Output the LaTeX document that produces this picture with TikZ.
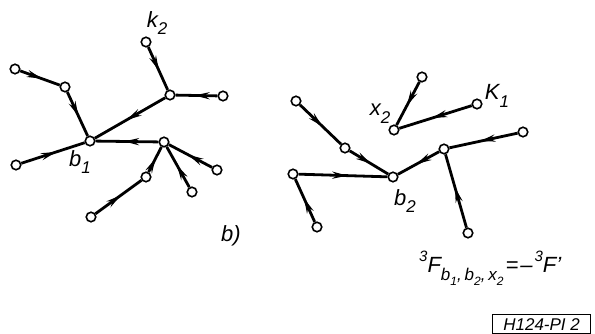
\documentclass[tikz,border=0pt]{standalone}
\usepackage{fontspec}
\setmainfont{Liberation Sans}
\usetikzlibrary{arrows.meta,decorations.markings}
\newcommand{\sbs}[1]{\raisebox{-0.35em}{\fontsize{17}{17}\selectfont #1}}
\newcommand{\sbsb}[1]{\raisebox{-0.3em}{\fontsize{12}{12}\selectfont #1}}
\newcommand{\sps}[1]{\raisebox{0.5em}{\fontsize{15}{15}\selectfont #1}}
\begin{document}
\begin{tikzpicture}[x=1pt,y=-1pt,
  vtx/.style={circle,draw,line width=1.6pt,fill=white,inner sep=0pt,minimum size=9.5pt},
  edge/.style={line width=2.8pt,postaction={decorate},decoration={markings,
    mark=at position 0.55 with {\arrow{Stealth[length=15pt,width=7pt]}}}},
  lbl/.style={font=\itshape\fontsize{22}{22}\selectfont,inner sep=0pt}]
\useasboundingbox (0,0) rectangle (595,334);
% left graph
\node[vtx] (k2) at (146,42) {};
\node[vtx] (a) at (170,95) {};
\node[vtx] (ar) at (223,96) {};
\node[vtx] (b1) at (90,141) {};
\node[vtx] (tl) at (15,69) {};
\node[vtx] (tm) at (65,87) {};
\node[vtx] (ll) at (16,165) {};
\node[vtx] (c) at (164,142) {};
\node[vtx] (cr) at (217,170) {};
\node[vtx] (cb) at (192,192) {};
\node[vtx] (cm) at (146,177) {};
\node[vtx] (bt) at (91,217) {};
\draw[edge] (k2) -- (a);
\draw[edge] (ar) -- (a);
\draw[edge] (a) -- (b1);
\draw[edge] (tl) -- (tm);
\draw[edge] (tm) -- (b1);
\draw[edge] (ll) -- (b1);
\draw[edge] (c) -- (b1);
\draw[edge] (cr) -- (c);
\draw[edge] (cb) -- (c);
\draw[edge] (cm) -- (c);
\draw[edge] (bt) -- (cm);
\node[lbl] (lk2) at (157,23) {k\sbs{2}};
\node[lbl] (lb1) at (80,162) {b\sbs{1}};
\node[lbl] (lb) at (231,236) {b)};
% right graph
\node[vtx] (xt) at (422,77) {};
\node[vtx] (x2) at (394,130) {};
\node[vtx] (k1) at (477,104) {};
\node[vtx] (rtl) at (296,101) {};
\node[vtx] (rm) at (345,148) {};
\node[vtx] (b2) at (393,177) {};
\node[vtx] (rl) at (293,174) {};
\node[vtx] (rbl) at (317,227) {};
\node[vtx] (d) at (444,149) {};
\node[vtx] (dr) at (523,132) {};
\node[vtx] (db) at (468,233) {};
\draw[edge] (xt) -- (x2);
\draw[edge] (k1) -- (x2);
\draw[edge] (rtl) -- (rm);
\draw[edge] (rm) -- (b2);
\draw[edge] (rl) -- (b2);
\draw[edge] (rbl) -- (rl);
\draw[edge] (d) -- (b2);
\draw[edge] (dr) -- (d);
\draw[edge] (db) -- (d);
\node[lbl] (lx2) at (380,114) {x\sbs{2}};
\node[lbl] (lk1) at (497,96) {K\sbs{1}};
\node[lbl] (lb2) at (405,201) {b\sbs{2}};
% formula
\node[lbl,anchor=west] (form) at (419,268)
  {\sps{3}F\sbs{b\sbsb{1},\,b\sbsb{2},\,x\sbsb{2}}\kern2pt=\kern2pt–\kern2pt\sps{3}F’};
\node[draw,line width=1.2pt,font=\itshape\fontsize{17}{17}\selectfont,inner xsep=2pt,inner ysep=1pt,anchor=north west,minimum width=98pt,minimum height=19pt] (code) at (492,314) {H124-PI 2};
\end{tikzpicture}
\end{document}
